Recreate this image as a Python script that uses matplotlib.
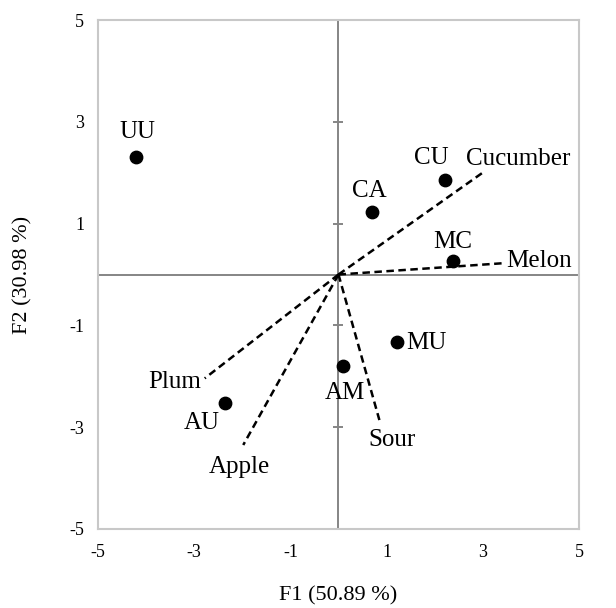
import matplotlib.pyplot as plt

plt.rcParams['font.family'] = ['Liberation Serif', 'DejaVu Serif']
plt.rcParams['axes.unicode_minus'] = False

# Observations (PCA scores)
obs_names = ['UU', 'CU', 'CA', 'MC', 'MU', 'AM', 'AU']
obs_x = [-4.2, 2.21, 0.69, 2.37, 1.21, 0.10, -2.36]
obs_y = [2.31, 1.85, 1.22, 0.27, -1.32, -1.79, -2.53]

# Variables (loading vectors from the origin)
var_names = ['Cucumber', 'Melon', 'Plum', 'Apple', 'Sour']
var_x = [3.01, 3.39, -2.78, -1.98, 0.85]
var_y = [2.01, 0.22, -2.04, -3.35, -2.86]

ticks = [-5, -3, -1, 1, 3, 5]

fig = plt.figure(figsize=(6.16, 6.08), dpi=100)
ax = fig.add_axes([0.159, 0.130, 0.781, 0.837])

ax.set_xlim(-5, 5)
ax.set_ylim(-5, 5)
ax.set_xticks(ticks)
ax.set_yticks(ticks)
ax.tick_params(length=0, labelsize=13, pad=10)
ax.tick_params(axis='x', pad=11)
for s in ax.spines.values():
    s.set_color('#c8c8c8')
    s.set_linewidth(1.5)

# center axes
ax.axhline(0, color='#858585', lw=1.4, zorder=1)
ax.axvline(0, color='#858585', lw=1.4, zorder=1)
ax.plot([0] * len(ticks), ticks, ls='none', marker='_', ms=7, mew=1.4,
        color='#858585', zorder=1, clip_on=False)

for name, vx, vy in zip(var_names, var_x, var_y):
    ax.plot([0, vx], [0, vy], color='black', lw=1.8, ls=(0, (3, 1.8)), zorder=2)

ax.scatter(obs_x, obs_y, s=80, color='black', zorder=3)

# labels
obs_lab = {
    'UU': (0.03, 0.49), 'CU': (-0.29, 0.44), 'CA': (-0.04, 0.42),
    'MC': (0.01, 0.37), 'MU': (0.61, -0.03), 'AM': (0.03, -0.54),
    'AU': (-0.48, -0.39),
}
for name, x, y in zip(obs_names, obs_x, obs_y):
    dx, dy = obs_lab[name]
    ax.text(x + dx, y + dy, name, fontsize=18, ha='center', va='center')

var_lab = {
    'Cucumber': (0.72, 0.26), 'Melon': (0.78, 0.05), 'Plum': (-0.62, -0.07),
    'Apple': (-0.07, -0.43), 'Sour': (0.26, -0.39),
}
for name, x, y in zip(var_names, var_x, var_y):
    dx, dy = var_lab[name]
    ax.text(x + dx, y + dy, name, fontsize=18, ha='center', va='center')

ax.set_xlabel('F1 (50.89 %)', fontsize=16, labelpad=18)
ax.set_ylabel('F2 (30.98 %)', fontsize=16, labelpad=26)

fig.savefig('out.png', dpi=100)
